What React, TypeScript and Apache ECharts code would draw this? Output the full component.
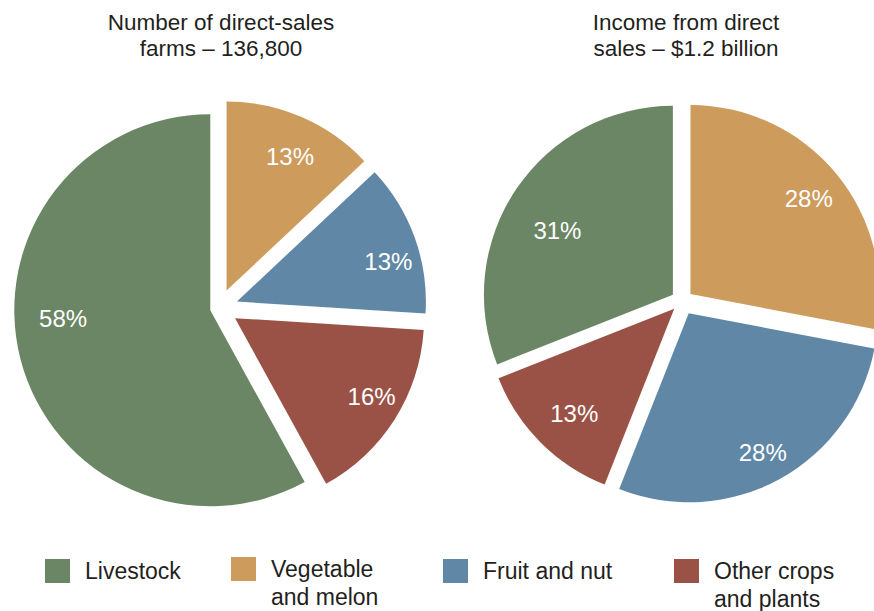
import React, { useEffect, useRef } from 'react';
import * as echarts from 'echarts';

// ---- data ----
const categories = ['Vegetable and melon', 'Fruit and nut', 'Other crops and plants', 'Livestock'];
const farmsShare = [13, 13, 16, 58];
const incomeShare = [28, 28, 13, 31];
const pieTitles = ['Number of direct-sales\nfarms – 136,800', 'Income from direct\nsales – $1.2 billion'];
const legendNames = ['Livestock', 'Vegetable and melon', 'Fruit and nut', 'Other crops and plants'];
const legendLabels = ['Livestock', 'Vegetable\nand melon', 'Fruit and nut', 'Other crops\nand plants'];

// ---- styles ----
const COLORS: Record<string, string> = {
  'Livestock': '#6b8664',
  'Vegetable and melon': '#cd9b5c',
  'Fruit and nut': '#6088a6',
  'Other crops and plants': '#9b5246',
};
const FONT = '"Liberation Sans", Arial, Helvetica, sans-serif';
const TEXT = '#231f20';

type PieLayout = {
  center: [number, number];
  radius: number[];
  offset: number[];
  labelFrac: number[];
  labelShift: [number, number][];
};
const layouts: PieLayout[] = [
  {
    center: [219, 308],
    radius: [189, 189, 189, 196],
    offset: [19, 19, 19, 9],
    labelFrac: [0.79, 0.83, 0.84, 0.76],
    labelShift: [[3, 6], [1, 14], [0, -8], [0, -30]],
  },
  {
    center: [682, 301],
    radius: [189, 189, 189, 189],
    offset: [11, 14, 11, 11],
    labelFrac: [0.81, 0.83, 0.77, 0.71],
    labelShift: [[-2, 4], [-3, -1], [5, 0], [-2, 13]],
  },
];
const titleX = [221, 686];
const legendX = [45, 231, 443, 674];
const legendIconTop = [559, 557, 559, 559];

function buildSeries(values: number[], lay: PieLayout, pieIdx: number) {
  const series: any[] = [];
  categories.forEach((cat, k) => {
    const r = lay.radius[k];
    const base = {
      type: 'pie',
      center: lay.center,
      startAngle: 90,
      clockwise: true,
      selectedMode: 'multiple',
      selectedOffset: lay.offset[k],
      silent: true,
      avoidLabelOverlap: false,
      labelLine: { show: false },
      emphasis: { disabled: true },
      itemStyle: { borderWidth: 0 },
    };
    series.push({
      ...base,
      name: `p${pieIdx}-slice-${k}`,
      radius: [0, r],
      data: values.map((v, i) => ({
        name: categories[i],
        value: v,
        selected: true,
        itemStyle: { color: i === k ? COLORS[categories[i]] : 'rgba(0,0,0,0)' },
        label: { show: false },
      })),
    });
    series.push({
      ...base,
      name: `p${pieIdx}-label-${k}`,
      radius: [(2 * lay.labelFrac[k] - 1) * r, r],
      labelLayout: { dx: lay.labelShift[k][0], dy: lay.labelShift[k][1] },
      data: values.map((v, i) => ({
        name: categories[i],
        value: v,
        selected: true,
        itemStyle: { color: 'rgba(0,0,0,0)' },
        label: {
          show: i === k,
          position: 'inside',
          formatter: '{c}%',
          color: '#ffffff',
          fontSize: 24,
          fontFamily: FONT,
        },
      })),
    });
  });
  return series;
}

export default function App() {
  const ref = useRef<HTMLDivElement>(null);
  useEffect(() => {
    document.body.style.margin = '0';
    if (!ref.current) return;
    const chart = echarts.init(ref.current, undefined, { renderer: 'svg' });
    const option: any = {
      animation: false,
      backgroundColor: '#ffffff',
      title: pieTitles.map((t, i) => ({
        text: t,
        left: titleX[i],
        top: 9,
        textAlign: 'center',
        padding: 0,
        textStyle: { fontSize: 22.5, fontWeight: 'normal', color: TEXT, fontFamily: FONT, lineHeight: 26 },
      })),
      legend: legendNames.map((n, i) => {
        const twoLine = legendLabels[i].includes('\n');
        return {
          data: [{ name: n, itemStyle: { color: COLORS[n] } }],
          left: legendX[i],
          top: legendIconTop[i] - (twoLine ? 30 : 2),
          orient: 'horizontal',
          icon: 'rect',
          itemWidth: 25,
          itemHeight: 24,
          padding: 0,
          selectedMode: false,
          formatter: () => (twoLine ? '\n' : '') + legendLabels[i],
          textStyle: {
            fontSize: 23,
            fontFamily: FONT,
            color: TEXT,
            lineHeight: 28,
            padding: [0, 0, 0, 10],
          },
        };
      }),
      series: [
        ...buildSeries(farmsShare, layouts[0], 0),
        ...buildSeries(incomeShare, layouts[1], 1),
      ],
    };
    chart.setOption(option);
    return () => chart.dispose();
  }, []);
  return <div ref={ref} style={{ width: 874, height: 611 }} />;
}
